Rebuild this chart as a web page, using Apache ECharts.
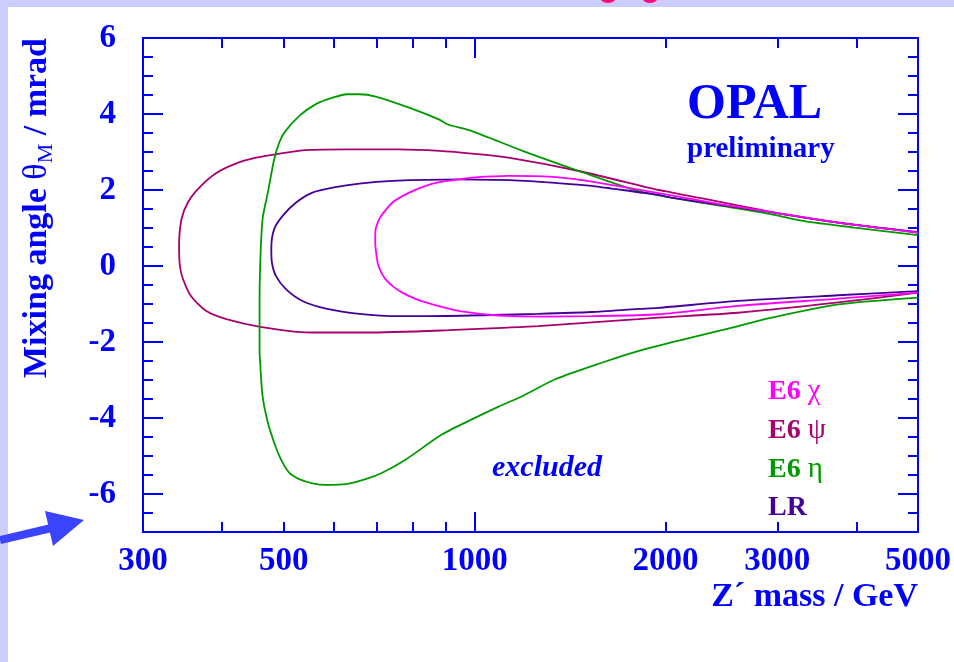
<!DOCTYPE html>
<html>
<head>
<meta charset="utf-8">
<script src="https://cdn.jsdelivr.net/npm/echarts@6/dist/echarts.min.js"></script>
<style>
  html, body { margin: 0; padding: 0; background: #ffffff; }
  #chart { width: 954px; height: 662px; }
</style>
</head>
<body>
<div id="chart"></div>
<script>
// Excluded regions in the (Z' mass, mixing angle) plane, one contour per model.
// Each contour: [mass in GeV, theta_M in mrad], traced along the upper edge
// from the heavy-mass end, round the low-mass tip, and back along the lower edge.
const chiContour = [
  [5000, 0.88], [3740, 1.14], [2940, 1.42], [2450, 1.62], [2040, 1.86], [1530, 2.22],
  [1420, 2.30], [1280, 2.36], [1130, 2.37], [1000, 2.33], [944, 2.28], [880, 2.21],
  [837, 2.11], [788, 1.93], [742, 1.67], [715, 1.36], [707, 1.23], [698, 0.97],
  [697, 0.62], [700, 0.30], [704, 0.05], [712, -0.16], [724, -0.35], [745, -0.55],
  [769, -0.70], [800, -0.84], [837, -0.96], [890, -1.08], [944, -1.18], [1000, -1.24],
  [1065, -1.29], [1150, -1.32], [1280, -1.33], [1530, -1.32], [1950, -1.27],
  [2600, -1.05], [3740, -0.86], [5000, -0.70]
];
const psiContour = [
  [5000, 0.88], [3740, 1.14], [2940, 1.42], [2040, 1.94], [1950, 2.00], [1460, 2.50],
  [1130, 2.85], [1000, 2.95], [880, 3.03], [760, 3.07], [634, 3.07], [542, 3.05],
  [486, 2.94], [452, 2.85], [421, 2.70], [391, 2.44], [368, 2.06], [353, 1.67],
  [345, 1.23], [342, 0.53], [343, 0.00], [347, -0.35], [357, -0.79], [377, -1.18],
  [406, -1.40], [459, -1.60], [549, -1.75], [673, -1.75], [911, -1.69], [1130, -1.62],
  [1260, -1.58], [1810, -1.40], [1950, -1.36], [2600, -1.23], [3740, -0.96], [5000, -0.70]
];
const etaContour = [
  [5000, 0.81], [3970, 1.01], [3310, 1.18], [2940, 1.36], [2450, 1.58], [2040, 1.80],
  [1810, 1.97], [1460, 2.50], [1190, 3.03], [990, 3.55], [905, 3.73], [878, 3.86],
  [788, 4.17], [698, 4.46], [658, 4.52], [630, 4.52], [597, 4.43], [562, 4.26],
  [529, 3.95], [501, 3.51], [492, 3.25], [483, 2.81], [472, 1.93], [463, 1.23],
  [459, 0.00], [458, -1.10], [458, -2.19], [459, -2.54], [463, -3.42], [472, -4.12],
  [483, -4.65], [495, -5.09], [510, -5.44], [529, -5.61], [555, -5.72], [583, -5.76],
  [627, -5.74], [673, -5.61], [715, -5.44], [779, -5.09], [889, -4.43], [1003, -3.99],
  [1091, -3.70], [1190, -3.42], [1340, -2.98], [1590, -2.54], [1810, -2.24],
  [2090, -1.97], [2480, -1.67], [2940, -1.36], [3740, -1.01], [5000, -0.83]
];
const lrContour = [
  [5000, 0.89], [3740, 1.14], [2940, 1.41], [2040, 1.80], [1950, 1.87], [1606, 2.06],
  [1530, 2.11], [1200, 2.24], [944, 2.28], [742, 2.24], [658, 2.17], [597, 2.06],
  [555, 1.93], [523, 1.67], [498, 1.32], [483, 0.97], [478, 0.48], [479, 0.09],
  [486, -0.26], [504, -0.61], [535, -0.92], [583, -1.12], [658, -1.26], [760, -1.32],
  [840, -1.32], [1065, -1.29], [1260, -1.26], [1530, -1.21], [1810, -1.13],
  [1950, -1.10], [2600, -0.92], [3740, -0.77], [5000, -0.66]
];

const modelNames = ['E6 χ', 'E6 ψ', 'E6 η', 'LR'];
const modelColors = ['#ff00ff', '#a8006e', '#009a00', '#440099'];

// Axis ticks and labels
const massLabels = [300, 500, 1000, 2000, 3000, 5000];
const massMinorTicks = [400, 500, 600, 700, 800, 900, 2000, 3000, 4000];
const massMajorTicks = [1000];
const angleLabels = [-6, -4, -2, 0, 2, 4, 6];

const BLUE = '#0000ff';
const SERIF = '"Liberation Serif", "Times New Roman", serif';

function massAxis(position, ticks, tickLen, withLine, withLabels) {
  return {
    type: 'log', logBase: 10, min: 300, max: 5000, position: position,
    axisLine: { show: withLine, onZero: false, lineStyle: { color: BLUE, width: 2 } },
    axisTick: { show: true, inside: true, length: tickLen, customValues: ticks,
                lineStyle: { color: BLUE, width: 2 } },
    axisLabel: withLabels ? {
      show: true, customValues: massLabels, margin: 13, color: BLUE,
      fontFamily: SERIF, fontWeight: 'bold', fontSize: 33,
      formatter: function (v) { return String(Math.round(v)); }
    } : { show: false },
    splitLine: { show: false }, minorTick: { show: false }
  };
}
function angleAxis(position, major, withLabels) {
  const ax = {
    type: 'value', min: -7, max: 6, position: position,
    axisLine: { show: !major, onZero: false, lineStyle: { color: BLUE, width: 2 } },
    axisTick: { show: true, inside: true, length: major ? 20 : 10,
                lineStyle: { color: BLUE, width: 2 } },
    axisLabel: withLabels ? {
      show: true, customValues: angleLabels, margin: 27, color: BLUE,
      fontFamily: SERIF, fontWeight: 'bold', fontSize: 33
    } : { show: false },
    splitLine: { show: false }
  };
  if (major) ax.axisTick.customValues = angleLabels;
  else ax.interval = 0.5;
  return ax;
}

const legendRich = {};
modelColors.forEach(function (c, i) {
  legendRich['b' + i] = { color: c, fontFamily: SERIF, fontWeight: 'bold', fontSize: 28 };
  legendRich['g' + i] = { color: c, fontFamily: SERIF, fontWeight: 'normal', fontSize: 29 };
});

const contours = [chiContour, psiContour, etaContour, lrContour];
const drawOrder = [1, 2, 3, 0];

const chart = echarts.init(document.getElementById('chart'), null, { renderer: 'canvas' });
chart.setOption({
  animation: false,
  backgroundColor: '#ffffff',
  grid: { left: 143, right: 36, top: 38, bottom: 130 },
  xAxis: [
    massAxis('bottom', massMinorTicks, 10, true, true),
    massAxis('bottom', massMajorTicks, 20, false, false),
    massAxis('top', massMinorTicks, 10, true, false),
    massAxis('top', massMajorTicks, 20, false, false)
  ],
  yAxis: [
    angleAxis('left', false, false),
    angleAxis('left', true, true),
    angleAxis('right', false, false),
    angleAxis('right', true, false)
  ],
  legend: {
    orient: 'vertical', left: 758, top: 372, icon: 'none',
    itemWidth: 0, itemHeight: 10, itemGap: 10, selectedMode: false,
    data: modelNames,
    formatter: function (name) {
      const i = modelNames.indexOf(name);
      const parts = name.split(' ');
      if (parts.length === 2) return '{b' + i + '|' + parts[0] + ' }{g' + i + '|' + parts[1] + '}';
      return '{b' + i + '|' + name + '}';
    },
    textStyle: { rich: legendRich }
  },
  series: drawOrder.map(function (i) {
    return {
      name: modelNames[i], type: 'line', xAxisIndex: 0, yAxisIndex: 0,
      data: contours[i], showSymbol: false, smooth: 0.25, clip: true,
      lineStyle: { color: modelColors[i], width: 1.8 },
      itemStyle: { color: modelColors[i] }
    };
  }),
  graphic: [
    { type: 'rect', shape: { x: 0, y: 0, width: 954, height: 7 }, style: { fill: '#ccccff' }, silent: true },
    { type: 'rect', shape: { x: 0, y: 0, width: 8, height: 662 }, style: { fill: '#ccccff' }, silent: true },
    { type: 'ellipse', shape: { cx: 608, cy: -3, rx: 8, ry: 6 }, style: { fill: '#ff0a78' }, silent: true },
    { type: 'ellipse', shape: { cx: 650, cy: -3, rx: 8, ry: 6 }, style: { fill: '#ff0a78' }, silent: true },
    // pointer arrow at the lower left
    { type: 'line', shape: { x1: 0, y1: 540, x2: 60, y2: 526 },
      style: { stroke: '#3a44ff', lineWidth: 8 }, silent: true },
    { type: 'polygon', shape: { points: [[45, 511], [84, 520], [53, 546]] },
      style: { fill: '#3a44ff' }, silent: true },
    { type: 'text', x: 687, y: 105, z: 10,
      style: { text: 'OPAL', fill: BLUE, font: 'bold 50px ' + SERIF, align: 'left', verticalAlign: 'middle' } },
    { type: 'text', x: 687, y: 150, z: 10,
      style: { text: 'preliminary', fill: BLUE, font: 'bold 29px ' + SERIF, align: 'left', verticalAlign: 'middle' } },
    { type: 'text', x: 492, y: 468, z: 10,
      style: { text: 'excluded', fill: BLUE, font: 'italic bold 30px ' + SERIF, align: 'left', verticalAlign: 'middle' } },
    { type: 'text', x: 918, y: 597, z: 10,
      style: { text: 'Z´ mass / GeV', fill: BLUE, font: 'bold 34px ' + SERIF, align: 'right', verticalAlign: 'middle' } },
    { type: 'text', x: 37, y: 208, rotation: Math.PI / 2, z: 10,
      style: {
        text: '{m|Mixing angle }{t|θ}{s|M}{m| / mrad}',
        align: 'center', verticalAlign: 'middle',
        rich: {
          m: { fill: BLUE, fontFamily: SERIF, fontWeight: 'bold', fontSize: 34 },
          t: { fill: BLUE, fontFamily: SERIF, fontWeight: 'normal', fontSize: 34 },
          s: { fill: BLUE, fontFamily: SERIF, fontWeight: 'normal', fontSize: 22, padding: [18, 0, 0, 0] }
        }
      } }
  ]
});
</script>
</body>
</html>
